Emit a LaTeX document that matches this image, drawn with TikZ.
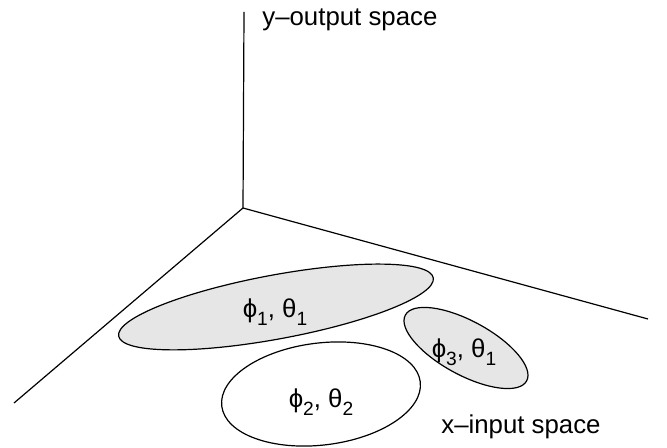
\documentclass[tikz,border=0pt]{standalone}
\usepackage{fontspec}
\setmainfont{Liberation Sans}
\usetikzlibrary{positioning}
\definecolor{blobgray}{HTML}{E6E6E6}
\newcommand{\lowidx}[1]{\raisebox{-4.2pt}{\fontsize{9.6}{9.6}\selectfont #1}}

\begin{document}
\begin{tikzpicture}[x=0.5pt, y=-0.5pt,
    axis/.style={line width=0.6pt},
    blob/.style={draw, line width=0.6pt},
    lbl/.style={inner sep=0pt, font=\fontsize{12.9}{15}\selectfont}]
  \useasboundingbox (0,0) rectangle (667,448);

  % axes
  \coordinate (origin) at (243,208);
  \coordinate (ytip) at (244,12);
  \coordinate (xleft) at (14,403);
  \coordinate (xright) at (648,319);
  \draw[axis] (origin) -- (ytip);
  \draw[axis] (origin) -- (xleft);
  \draw[axis] (origin) -- (xright);

  % regions
  \coordinate (c1) at (276,307);
  \coordinate (c2) at (321,394);
  \coordinate (c3) at (466,348);
  \draw[blob, fill=blobgray, rotate around={10.5:(c1)}] (c1) ellipse (160 and 32);
  \draw[blob, fill=white, rotate around={7:(c2)}] (c2) ellipse (100 and 51);
  \draw[blob, fill=blobgray, rotate around={-28.5:(c3)}] (c3) ellipse (69 and 27);

  % labels
  \node[lbl, anchor=base] (reg1) at (275,317) {ϕ\lowidx{1}, θ\lowidx{1}};
  \node[lbl, anchor=base] (reg2) at (321,407) {ϕ\lowidx{2}, θ\lowidx{2}};
  \node[lbl, anchor=base] (reg3) at (464,357) {ϕ\lowidx{3}, θ\lowidx{1}};
  \node[lbl, anchor=base west] (xname) at (441,433) {x–input space};
  \node[lbl, anchor=base west] (yname) at (262,26) {y–output space};
\end{tikzpicture}
\end{document}
